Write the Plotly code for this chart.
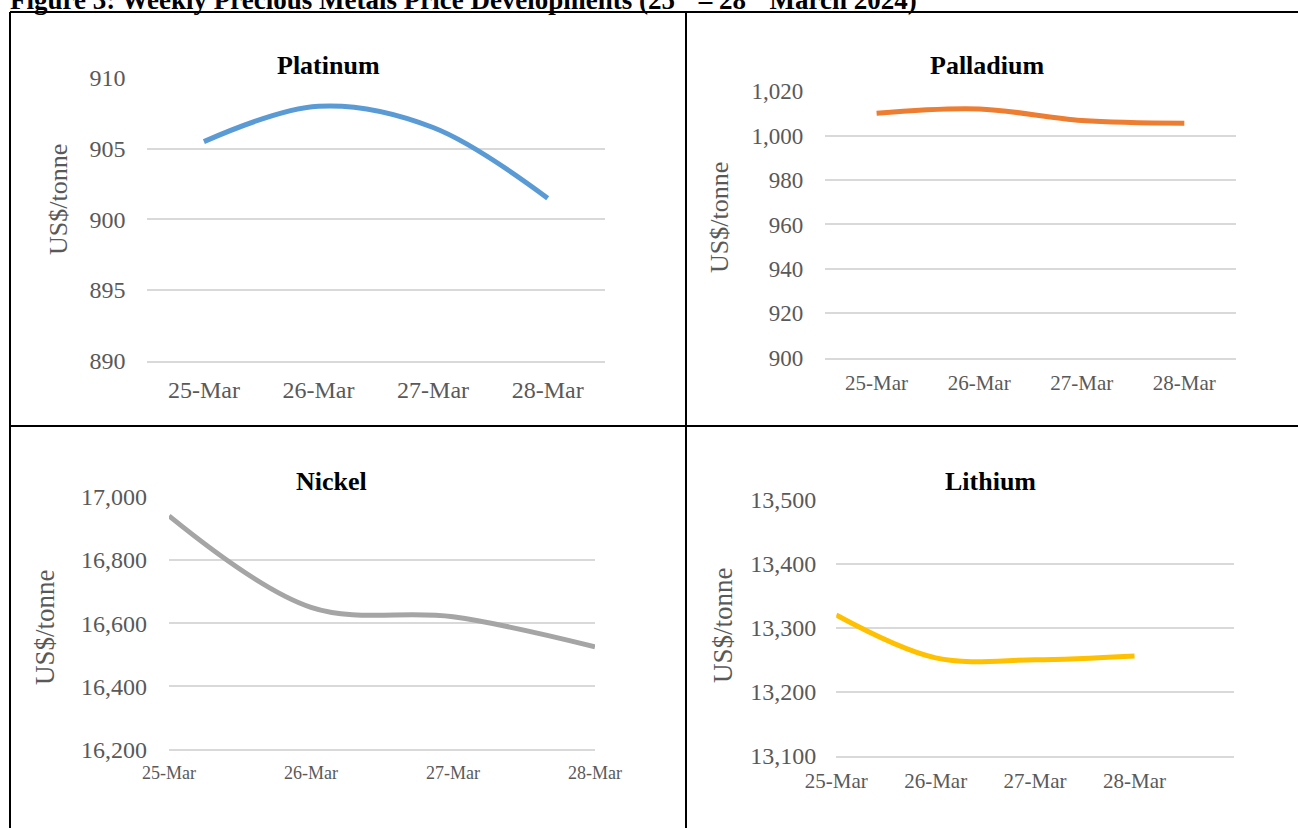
import plotly.graph_objects as go

# ---- data ----
dates = ["25-Mar", "26-Mar", "27-Mar", "28-Mar"]
platinum = [905.5, 908.0, 906.5, 901.5]
palladium = [1010.1, 1012.0, 1006.8, 1005.6]
nickel = [16940, 16650, 16620, 16525]
lithium = [13320, 13253, 13250, 13256]

W, H = 1298, 828
FONT = "Liberation Serif"
GRAY = "#595959"
GRID = "#D9D9D9"


def px(x):
    return x / W


def py(y):
    return 1 - y / H


fig = go.Figure()

panels = [
    dict(name="Platinum", vals=platinum, color="#5B9BD5", x=(146.6, 605), y=(77.7, 360.7),
         yr=(890, 910), dt=5, xr=(-0.5, 3.5), xf=24, yf=24, fmt="", tpos=(328, 65), apos=(59, 200),
         af=26, xs=6, ys=20),
    dict(name="Palladium", vals=palladium, color="#ED7D31", x=(825.3, 1235.6), y=(91, 357.7),
         yr=(900, 1020), dt=20, xr=(-0.5, 3.5), xf=21, yf=23, fmt=",", tpos=(987, 65), apos=(719, 218),
         af=26, xs=5, ys=21),
    dict(name="Nickel", vals=nickel, color="#A5A5A5", x=(169, 595), y=(496.7, 749.3),
         yr=(16200, 17000), dt=200, xr=(0, 3), xf=18, yf=24, fmt=",", tpos=(331, 481), apos=(45, 627),
         af=27, xs=6, ys=21),
    dict(name="Lithium", vals=lithium, color="#FFC000", x=(836.2, 1234), y=(499.7, 755.7),
         yr=(13100, 13500), dt=100, xr=(0, 4), xf=21, yf=24, fmt=",", tpos=(990, 481), apos=(723, 625),
         af=27, xs=5, ys=19),
]

annotations = []
for i, p in enumerate(panels, start=1):
    xa = "x" if i == 1 else f"x{i}"
    ya = "y" if i == 1 else f"y{i}"
    fig.add_trace(go.Scatter(
        x=dates, y=p["vals"], mode="lines", xaxis=xa, yaxis=ya,
        line=dict(color=p["color"], width=5, shape="spline", smoothing=1),
        showlegend=False, hoverinfo="x+y",
    ))
    xkey = "xaxis" if i == 1 else f"xaxis{i}"
    ykey = "yaxis" if i == 1 else f"yaxis{i}"
    eps = p["dt"] * 0.004
    fig.update_layout({
        xkey: dict(domain=[px(p["x"][0]), px(p["x"][1])], anchor=ya, type="category",
                   range=list(p["xr"]), showgrid=False, zeroline=False,
                   showline=True, linecolor=GRID, linewidth=2,
                   ticks="", ticklabelstandoff=p["xs"], automargin=False,
                   tickfont=dict(family=FONT, size=p["xf"], color=GRAY), fixedrange=True),
        ykey: dict(domain=[py(p["y"][1]), py(p["y"][0])], anchor=xa,
                   range=[p["yr"][0], p["yr"][1] + eps], dtick=p["dt"], tick0=p["yr"][0],
                   tickformat=p["fmt"], automargin=False,
                   showgrid=True, gridcolor=GRID, gridwidth=2, showline=False, zeroline=False,
                   ticks="", ticklabelstandoff=p["ys"],
                   tickfont=dict(family=FONT, size=p["yf"], color=GRAY), fixedrange=True),
    })
    annotations.append(dict(text=f"<b>{p['name']}</b>", xref="paper", yref="paper",
                            x=px(p["tpos"][0]), y=py(p["tpos"][1]), xanchor="center", yanchor="middle",
                            showarrow=False, font=dict(family=FONT, size=26, color="black")))
    annotations.append(dict(text="US$/tonne", xref="paper", yref="paper", textangle=-90,
                            x=px(p["apos"][0]), y=py(p["apos"][1]), xanchor="center", yanchor="middle",
                            showarrow=False, font=dict(family=FONT, size=p["af"], color=GRAY)))

annotations.append(dict(
    text="<b>Figure 3: Weekly Precious Metals Price Developments (25<sup>th</sup> – 28<sup>th</sup> March 2024)</b>",
    xref="paper", yref="paper", x=px(8), y=py(17), xanchor="left", yanchor="bottom",
    showarrow=False, font=dict(family=FONT, size=27, color="black")))

shapes = []
lw = 2
for (x0, y0, x1, y1) in [(10, 12, W + 5, 12), (10, 12, 10, H + 5), (686, 12, 686, H + 5), (10, 426, W + 5, 426)]:
    shapes.append(dict(type="line", xref="paper", yref="paper",
                       x0=px(x0), y0=py(y0), x1=px(x1), y1=py(y1),
                       line=dict(color="black", width=lw)))

fig.update_layout(width=W, height=H, margin=dict(l=0, r=0, t=0, b=0, autoexpand=False),
                  paper_bgcolor="white", plot_bgcolor="white",
                  annotations=annotations, shapes=shapes)

fig.write_html("out.html", config={"displayModeBar": False})
